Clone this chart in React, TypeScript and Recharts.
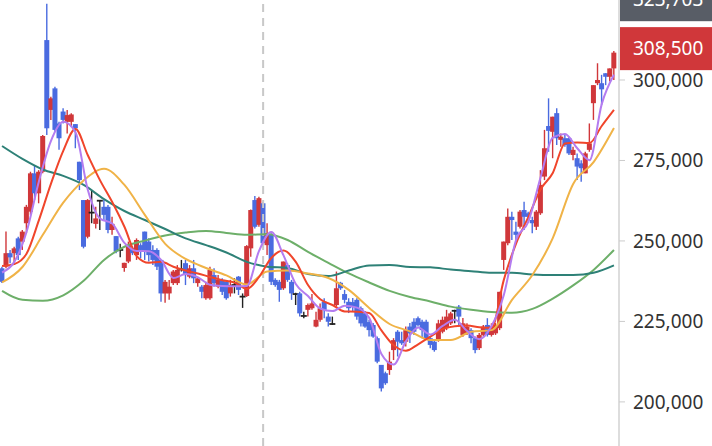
import React from 'react';
import {
  ComposedChart,
  Bar,
  Line,
  XAxis,
  YAxis,
  ReferenceLine,
} from 'recharts';

// daily candles, [open, high, low, close]
const ohlc: [number, number, number, number][] = [
  [241500, 242000, 236900, 237300], [242000, 252900, 241500, 246200], [246200, 247200, 243100, 244900],
  [246200, 248200, 242500, 247700], [250800, 251300, 244100, 245600], [249800, 253400, 247200, 252900],
  [255500, 261200, 252400, 260600], [259100, 271500, 258100, 271000], [271000, 273600, 262700, 264800],
  [264800, 272000, 261700, 271500], [271500, 282900, 271000, 282600], [312400, 323700, 282900, 285000],
  [290700, 294800, 287600, 294300], [297400, 297900, 283900, 284500], [286500, 287000, 278300, 281900],
  [290200, 291200, 286500, 287600], [287000, 290700, 283400, 289100], [287000, 289700, 285500, 289300],
  [286300, 286300, 278800, 285000], [274600, 274600, 265800, 268900], [262700, 262700, 247700, 248200],
  [251300, 263000, 250800, 262700], [258800, 265800, 255500, 258800], [255300, 260600, 253900, 257000],
  [262500, 262700, 253400, 262500], [260600, 262700, 256500, 258100], [260600, 261200, 252400, 253400],
  [253400, 257500, 251900, 255300], [251500, 251500, 246200, 246700], [247200, 249100, 244900, 247200],
  [241600, 243200, 240400, 243200], [243600, 249800, 243100, 248700], [247700, 248200, 245600, 246200],
  [245600, 250800, 244100, 250300], [248700, 249300, 244600, 247200], [252900, 252900, 244100, 246700],
  [249800, 250800, 243600, 245600], [247200, 248700, 242500, 244100], [247200, 247700, 241000, 242000],
  [244100, 244100, 231100, 233700], [233700, 237900, 230800, 237300], [233700, 237900, 231700, 235800],
  [236900, 241000, 236300, 240500], [236900, 242500, 236300, 241000], [241200, 244100, 240500, 241200],
  [243100, 244100, 236300, 239400], [238900, 242500, 238400, 241500], [241500, 244100, 236900, 238400],
  [236900, 238900, 235800, 238400], [235800, 236300, 232200, 234200], [232200, 237300, 231700, 236300],
  [232200, 242000, 231700, 241000], [239400, 241500, 235800, 236900], [235800, 239400, 235300, 237900],
  [237900, 238400, 233200, 234200], [237300, 237900, 231700, 232200], [233700, 237900, 232700, 236300],
  [236300, 238400, 233700, 236300], [238900, 239100, 233200, 234800], [232700, 233700, 229200, 232700],
  [232900, 248700, 232600, 248400], [247700, 259800, 245100, 259600], [262700, 264000, 253900, 254400],
  [255000, 263700, 254400, 263300], [261700, 262200, 248700, 249300], [248700, 255500, 245600, 252400],
  [251900, 252400, 236300, 237300], [237900, 238400, 235800, 236300], [237300, 237900, 231100, 234800],
  [235300, 243600, 234800, 243600], [242500, 243100, 237300, 237900], [237300, 237900, 231700, 233700],
  [233500, 233900, 230100, 233500], [233700, 234200, 226500, 227500], [226700, 228000, 226000, 226700],
  [228600, 230600, 226500, 230100], [229100, 233500, 228600, 230600], [223400, 228000, 223200, 225500],
  [225500, 230600, 224900, 229100], [231100, 232200, 226000, 228600], [226500, 227500, 223400, 224900],
  [224200, 226500, 223900, 224200], [230100, 240500, 229600, 235300], [237000, 237300, 234800, 235300],
  [233500, 234800, 230600, 231700], [231100, 232200, 227600, 229100], [231000, 232300, 227900, 229500],
  [231700, 232200, 225500, 226500], [229100, 229600, 223400, 224400], [227500, 228200, 223000, 223400],
  [224800, 225500, 220300, 222300], [223900, 224500, 219900, 220300], [219800, 220300, 212000, 212500],
  [211500, 211500, 203200, 204200], [208900, 209400, 205300, 205800], [209900, 215600, 208400, 212500],
  [216100, 219800, 213000, 219200], [221800, 222300, 214100, 218700], [219200, 221800, 217700, 218200],
  [218700, 223400, 217200, 222300], [223400, 224500, 218300, 221300], [224900, 226000, 220800, 221800],
  [226000, 226500, 223400, 223900], [224900, 225500, 219800, 222300], [224900, 225500, 219200, 219800],
  [219800, 220300, 216700, 217700], [218700, 219200, 215600, 216100], [219200, 225500, 218700, 224400],
  [221800, 226500, 221300, 225500], [222900, 228600, 222300, 226500], [224400, 228000, 223900, 227500],
  [228300, 228600, 224400, 228300], [229600, 230100, 223900, 226500], [220800, 226100, 220200, 224400],
  [221300, 224400, 220800, 223400], [222300, 222900, 218200, 219800], [219800, 220300, 215100, 216100],
  [216700, 221400, 216100, 220800], [220800, 223900, 220300, 223400], [223900, 226000, 220300, 220800],
  [220800, 224400, 220300, 223400], [221300, 224500, 220800, 223900], [222900, 234200, 222300, 234200],
  [244100, 249800, 241000, 249800], [249300, 260100, 248700, 257500], [257500, 259100, 250300, 256500],
  [252900, 256000, 249800, 251900], [254400, 259600, 253900, 259100], [259600, 262200, 253400, 257500],
  [258600, 259100, 256000, 257500], [256500, 257500, 252400, 255500], [254400, 259600, 253400, 259100],
  [258600, 272000, 258100, 267400], [270000, 284500, 268900, 278800], [285700, 294300, 277700, 284200],
  [283900, 288600, 275700, 288600], [289700, 291200, 279800, 281900], [281400, 283400, 279300, 282400],
  [281900, 282900, 279300, 279800], [281900, 282400, 276700, 277200], [276700, 279300, 275100, 278300],
  [275700, 277200, 268900, 273100], [274100, 275100, 268400, 272600], [271000, 277700, 271000, 277200],
  [278300, 286500, 277700, 280300], [292800, 298400, 287600, 298400], [299000, 305200, 298400, 300000],
  [299000, 301600, 292200, 297100], [302100, 302100, 298400, 301000], [301000, 303600, 299500, 303600],
  [303600, 309000, 300000, 308500],
];

// moving averages; ma5/ma10 every 3 candles, the slower ones every 5
const FAST_STEP = 3;
const SLOW_STEP = 5;
const ma5 = [240200, 243500, 252800, 268300, 281100, 287000, 283800, 266000, 257000, 255400,
  249400, 246900, 246800, 244100, 238500, 239700, 238700, 236400, 236000, 235900,
  236000, 246900, 252800, 245500, 236600, 232900, 229000, 228200, 229900, 229300,
  226100, 214900, 211600, 218800, 223100, 220900, 223600, 225500, 222000, 219500,
  223600, 233200, 250300, 255900, 269700, 282100, 283200, 278800, 275100, 292500, 301600];
const ma10 = [242200, 242800, 246000, 256300, 267800, 278000, 284800, 276700, 268900, 262100,
  254400, 245300, 243200, 243500, 242000, 240800, 239900, 238800, 237800, 237100,
  235100, 238800, 244700, 247000, 243500, 236300, 231900, 230100, 228100, 228000,
  227600, 222200, 217600, 215900, 217900, 220300, 222600, 223500, 223700, 223200,
  223000, 237900, 249200, 257400, 266000, 271100, 280300, 280600, 280400, 285700, 290700];
const ma20 = [237100, 241900, 251900, 261900, 268800, 272400, 267400, 258100, 249100, 244400, 241600,
  239300, 236500, 240500, 240800, 239900, 238500, 234800, 229200, 224200, 221900, 219200, 219200,
  221800, 222300, 231700, 239400, 250900, 267700, 274500, 285100];
const ma60 = [279500, 275500, 272200, 270200, 267400, 263000, 259300, 256500, 253700, 250800, 248700,
  246400, 243500, 242000, 241600, 239700, 239100, 240800, 242400, 242500, 241900, 241800, 241100,
  240600, 240100, 240100, 239600, 239400, 239400, 240100, 242400];
const ma120 = [234500, 231700, 231400, 233100, 237600, 244100, 248200, 250100, 251700, 252600, 253100,
  252500, 251900, 252100, 250300, 246600, 243200, 239900, 237100, 234500, 232600, 231200, 229600,
  228600, 227900, 227700, 228900, 232100, 236200, 241000, 247200];

const yTicks = [200000, 225000, 250000, 275000, 300000];
const LAST_PRICE = 308500;
const MARK_PRICE = 323703;
const DIVIDER_INDEX = 64;

const RED = '#d0373a';
const BLUE = '#4a6be0';
const DOJI = '#222222';

const maAt = (arr: number[], step: number, i: number) =>
  i % step === 0 ? arr[i / step] ?? null : null;

const data = ohlc.map(([open, high, low, close], i) => ({
  i,
  open,
  high,
  low,
  close,
  ma5: maAt(ma5, FAST_STEP, i),
  ma10: maAt(ma10, FAST_STEP, i),
  ma20: maAt(ma20, SLOW_STEP, i),
  ma60: maAt(ma60, SLOW_STEP, i),
  ma120: maAt(ma120, SLOW_STEP, i),
}));

const Candle = (props: any) => {
  const { x, y, width, height, payload } = props;
  if (!payload) return null;
  const { open, high, low, close } = payload;
  const top = Math.min(y, y + height);
  const h = Math.abs(height);
  const k = high > low ? h / (high - low) : 0;
  const py = (v: number) => top + (high - v) * k;
  const cx = x + width / 2;
  const color = close > open ? RED : close < open ? BLUE : DOJI;
  const bTop = py(Math.max(open, close));
  const bBot = py(Math.min(open, close));
  return (
    <g>
      <line x1={cx} x2={cx} y1={top} y2={top + h} stroke={color} strokeWidth={1.4} />
      {close === open ? (
        <rect x={cx - 3} y={bTop - 0.9} width={6} height={1.8} fill={color} />
      ) : (
        <rect x={cx - 2.5} y={bTop} width={5} height={Math.max(bBot - bTop, 1.2)} fill={color} />
      )}
    </g>
  );
};

const PriceTag = (props: any) => {
  const { viewBox, text, fill, shift } = props;
  if (!viewBox) return null;
  const left = viewBox.x + viewBox.width - 1;
  const cy = viewBox.y + shift;
  return (
    <g>
      <rect x={left} y={cy - 21.5} width={712 - left} height={43} fill={fill} />
      <text x={left + 15} y={cy} dy="0.355em" fill="#ffffff" fontSize={19} fontFamily="Noto Sans">
        {text}
      </text>
    </g>
  );
};

const maLine = (key: string, color: string) => (
  <Line
    key={key}
    dataKey={key}
    stroke={color}
    strokeWidth={2}
    dot={false}
    activeDot={false}
    type="monotone"
    connectNulls
    isAnimationActive={false}
  />
);

export default function App() {
  return (
    <div style={{ position: 'absolute', left: 0, top: 0, width: 712, height: 446, background: '#fff' }}>
      <ComposedChart width={712} height={446} data={data} margin={{ top: 0, right: 0, bottom: 0, left: 0 }}>
        <XAxis dataKey="i" hide padding={{ left: 0, right: 3 }} />
        <YAxis
          orientation="right"
          width={93}
          domain={[186300, 324850]}
          allowDataOverflow
          ticks={yTicks}
          tickFormatter={(v: number) => v.toLocaleString('en-US')}
          axisLine={{ stroke: '#dddddd', strokeWidth: 2 }}
          tickLine={{ stroke: '#cccccc' }}
          tickSize={6}
          tickMargin={8}
          tick={{ fill: '#333333', fontSize: 19, fontFamily: 'Noto Sans' }}
        />
        <ReferenceLine x={DIVIDER_INDEX} stroke="#c8c8c8" strokeWidth={2} strokeDasharray="8 6" />
        <Bar
          dataKey={(d: any) => [d.low, d.high]}
          shape={<Candle />}
          isAnimationActive={false}
        />
        {maLine('ma120', '#6daf69')}
        {maLine('ma60', '#2e8177')}
        {maLine('ma20', '#f0b347')}
        {maLine('ma10', '#f0452b')}
        {maLine('ma5', '#b47cf0')}
        <ReferenceLine
          y={MARK_PRICE}
          stroke="none"
          ifOverflow="visible"
          label={<PriceTag text={MARK_PRICE.toLocaleString('en-US')} fill="#585d66" shift={-4} />}
        />
        <ReferenceLine
          y={LAST_PRICE}
          stroke="none"
          ifOverflow="visible"
          label={<PriceTag text={LAST_PRICE.toLocaleString('en-US')} fill={RED} shift={-4} />}
        />
      </ComposedChart>
    </div>
  );
}
